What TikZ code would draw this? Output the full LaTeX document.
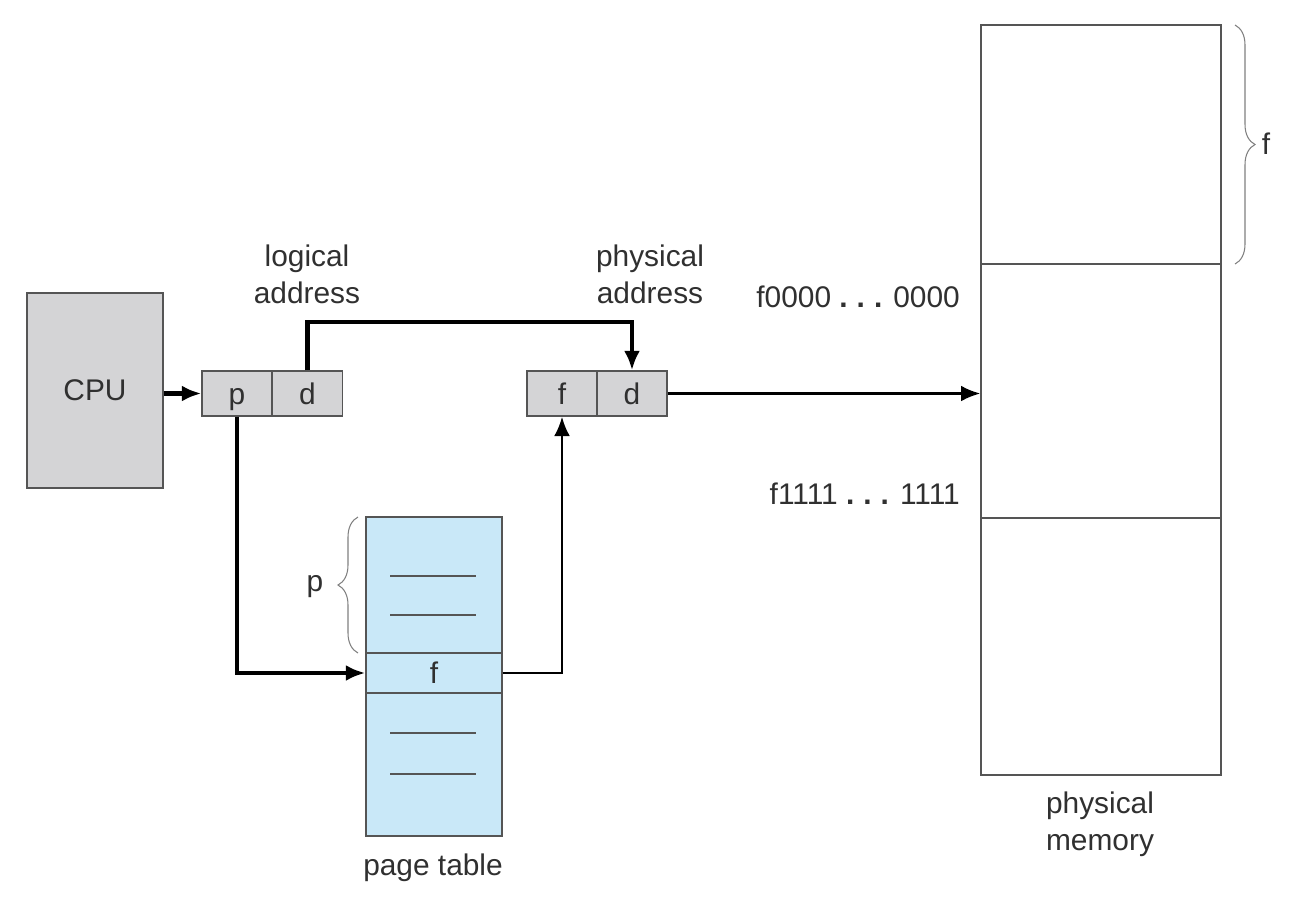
\documentclass[tikz,border=0pt]{standalone}
\usepackage{fontspec}
\setmainfont{Liberation Sans}
\usetikzlibrary{arrows.meta,decorations.pathreplacing}
\definecolor{cellgray}{HTML}{D4D4D6}
\definecolor{tableblue}{HTML}{C9E8F8}
\definecolor{edgegray}{HTML}{555555}
\definecolor{textgray}{HTML}{303030}
\newcommand{\wdots}{\textbf{.\hspace{0.3em}.\hspace{0.3em}.}}

\begin{document}
\begin{tikzpicture}[x=0.02cm,y=-0.02cm,
  font=\fontsize{17}{21}\selectfont,text=textgray,
  box/.style={draw=edgegray,line width=0.8pt,inner sep=0pt},
  cell/.style={box,fill=cellgray,minimum width=1.4cm,minimum height=0.9cm,text height=13.5pt,text depth=1pt},
  ptrow/.style={box,fill=tableblue,minimum width=2.72cm},
  memrow/.style={box,fill=white,minimum width=4.8cm},
  bigarrow/.style={line width=2.3pt,-{Latex[length=11pt,width=9pt]}},
  smallarrow/.style={line width=1.4pt,-{Latex[length=11pt,width=9pt]}},
  entry/.style={draw=edgegray,line width=1pt},
  grpbrace/.style={draw=gray,line width=0.6pt,decorate,decoration={brace,amplitude=0.4cm}}]
\useasboundingbox (0,0) rectangle (1290,917);

% CPU and the two addresses
\node[box,fill=cellgray,minimum width=2.72cm,minimum height=3.9cm] (cpu) at (95,390.5) {CPU};
\node[cell] (lp) at (237,393.5) {p};
\node[cell] (ld) at (307.5,393.5) {d};
\node[cell] (fcell) at (562,393.5) {f};
\node[cell] (pd) at (632,393.5) {d};
\node[align=center] (laddr) at (307,274) {logical\\address};
\node[align=center] (paddr) at (650,274) {physical\\address};

% page table
\node[ptrow,minimum height=2.72cm] (pttop) at (434,585) {};
\node[ptrow,minimum height=0.8cm] (ptf) at (434,673) {f};
\node[ptrow,minimum height=2.86cm] (ptbot) at (434,764.5) {};
\foreach \y in {576,615,733,774}
  \draw[entry] (390,\y) -- (476,\y);
\draw[grpbrace] (358,653) -- (358,517);
\node (plabel) at (315,587) {p};
\node (ptname) at (433,868) {page table};

% physical memory
\node[memrow,minimum height=4.78cm] (mem1) at (1101,144.5) {};
\node[memrow,minimum height=5.08cm] (mem2) at (1101,391) {};
\node[memrow,minimum height=5.14cm] (mem3) at (1101,646.5) {};
\draw[grpbrace] (1235,25) -- (1235,264);
\node (flabel) at (1266,144) {f};
\node[anchor=east] (lo) at (966,297) {f0000 \wdots{} 0000};
\node[anchor=east] (hi) at (966,494) {f1111 \wdots{} 1111};
\node[align=center] (memname) at (1100,824) {physical\\memory};

% connectors
\draw[bigarrow] (cpu.east |- lp.west) -- (lp.west);
\draw[bigarrow] (ld.north) -- ++(0,-48) -| (pd.north);
\draw[bigarrow] (lp.south) |- (ptf.west);
\draw[smallarrow] (ptf.east) -| (fcell.south);
\draw[smallarrow] (pd.east) -- (pd.east -| mem2.west);
\end{tikzpicture}
\end{document}
